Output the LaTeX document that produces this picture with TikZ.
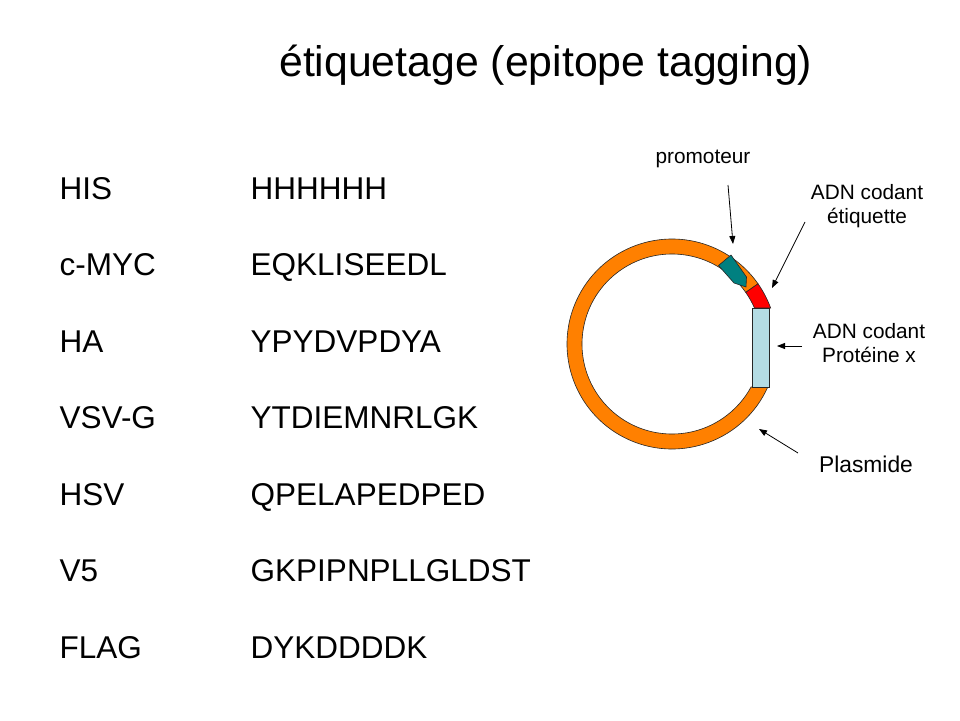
\documentclass[tikz,border=0pt]{standalone}
\usepackage{fontspec}
\setmainfont{Liberation Sans}
\usetikzlibrary{arrows.meta}
\definecolor{ringorange}{RGB}{255,128,0}
\definecolor{promteal}{RGB}{0,128,128}
\definecolor{tagred}{RGB}{255,0,0}
\definecolor{protblue}{RGB}{180,220,228}
\begin{document}
\begin{tikzpicture}[x=1pt,y=1pt,
  titletext/.style={font=\fontsize{42.8}{50}\selectfont, anchor=base west, inner sep=0},
  listtext/.style={font=\fontsize{31.5}{38}\selectfont, anchor=base west, inner sep=0},
  smalllabel/.style={font=\fontsize{20.8}{24.5}\selectfont, align=center, inner sep=0},
  pointer/.style={-{Triangle[length=8pt,width=6pt]}, line width=0.8pt},
  outline/.style={draw=black!85, line width=0.6pt}]
\fill[white] (0,0) rectangle (960,-720);
\useasboundingbox (0,0) rectangle (960,-720);

% title
\node[titletext] (title) at (279,-76) {étiquetage (epitope tagging)};

% list
\node[listtext] (n1) at (59.5,-199) {HIS};
\node[listtext] (s1) at (250.5,-199) {HHHHHH};
\node[listtext] (n2) at (59.5,-275.5) {c-MYC};
\node[listtext] (s2) at (250.5,-275.5) {EQKLISEEDL};
\node[listtext] (n3) at (59.5,-352) {HA};
\node[listtext] (s3) at (250.5,-352) {YPYDVPDYA};
\node[listtext] (n4) at (59.5,-428.5) {VSV-G};
\node[listtext] (s4) at (250.5,-428.5) {YTDIEMNRLGK};
\node[listtext] (n5) at (59.5,-505) {HSV};
\node[listtext] (s5) at (250.5,-505) {QPELAPEDPED};
\node[listtext] (n6) at (59.5,-581.5) {V5};
\node[listtext] (s6) at (250.5,-581.5) {GKPIPNPLLGLDST};
\node[listtext] (n7) at (59.5,-658) {FLAG};
\node[listtext] (s7) at (250.5,-658) {DYKDDDDK};

% plasmid ring
\coordinate (ctr) at (672,-344);
\draw[outline, fill=ringorange]
  ([shift={(ctr)}]-24.17:105) arc[start angle=-24.17, end angle=-325, radius=105]
  -- ([shift={(ctr)}]35:90) arc[start angle=35, end angle=331.46, radius=90] -- cycle;
% tag (red)
\draw[outline, fill=tagred]
  ([shift={(ctr)}]35:105) arc[start angle=35, end angle=20.05, radius=105]
  -- ([shift={(ctr)}]23.58:90) arc[start angle=23.58, end angle=35, radius=90] -- cycle;
% protein x (light blue)
\draw[outline, fill=protblue] (752,-308) rectangle (769,-387);
% promoter (teal)
\draw[outline, fill=promteal] (718.5,-265.5) -- (731,-255) -- (746.5,-277) -- (746,-287) -- (734,-283) -- cycle;

% labels
\node[smalllabel, anchor=base] (promlbl) at (703,-163) {promoteur};
\node[smalllabel, anchor=north] (taglbl) at (867,-184.2) {ADN codant\\étiquette};
\node[smalllabel, anchor=north] (protlbl) at (869,-323.2) {ADN codant\\Protéine x};
\node[font=\fontsize{22.8}{27}\selectfont, anchor=base, inner sep=0] (plaslbl) at (866,-472) {Plasmide};

% pointers
\coordinate (promA) at (728,-185); \coordinate (promB) at (733,-244);
\coordinate (tagA) at (805,-222); \coordinate (tagB) at (772,-288);
\coordinate (protA) at (802,-346); \coordinate (protB) at (777,-346);
\coordinate (plasA) at (798,-453); \coordinate (plasB) at (759,-429);
\draw[pointer] (promA) -- (promB);
\draw[pointer] (tagA) -- (tagB);
\draw[pointer] (protA) -- (protB);
\draw[pointer] (plasA) -- (plasB);
\end{tikzpicture}
\end{document}
